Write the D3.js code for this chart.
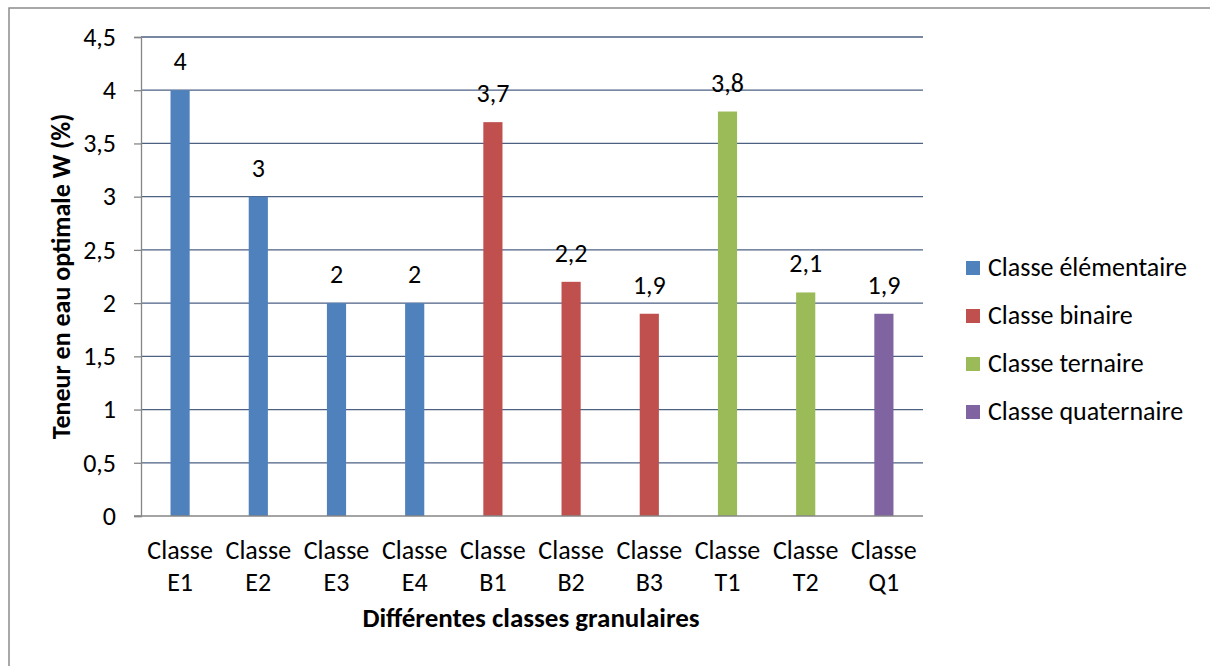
<!DOCTYPE html>
<html><head><meta charset="utf-8">
<script src="https://cdn.jsdelivr.net/npm/d3@7"></script>
<style>body{margin:0;background:#fff;} text{font-family:Carlito,Calibri,Lato,sans-serif;}</style>
</head><body><svg id="c" width="1210" height="666"></svg>
<script>
const categories = ["Classe E1","Classe E2","Classe E3","Classe E4","Classe B1","Classe B2","Classe B3","Classe T1","Classe T2","Classe Q1"];
const values = [4, 3, 2, 2, 3.7, 2.2, 1.9, 3.8, 2.1, 1.9];
const groups = ["élémentaire","élémentaire","élémentaire","élémentaire","binaire","binaire","binaire","ternaire","ternaire","quaternaire"];
const seriesNames = ["élémentaire","binaire","ternaire","quaternaire"];
const seriesLabels = ["Classe élémentaire","Classe binaire","Classe ternaire","Classe quaternaire"];
const seriesColors = ["#4F81BD","#C0504D","#9BBB59","#8064A2"];
const yTicks = [0,0.5,1,1.5,2,2.5,3,3.5,4,4.5];
const yTitle = "Teneur en eau optimale W (%)";
const xTitle = "Différentes classes granulaires";

const svg = d3.select("#c");
const fmt = v => String(v).replace(".", ",");
const FS = 26;
// outer frame
svg.append("rect").attr("x",9).attr("y",8).attr("width",1300).attr("height",700)
  .attr("fill","none").attr("stroke","#8c8c8c").attr("stroke-width",1.5);

const L=141, R=923, T=37, B=516;
const x = d3.scaleBand().domain(categories).range([L,R]).paddingInner(0.755).paddingOuter(0.3775);
const y = d3.scaleLinear().domain([0,4.5]).range([B,T]);
const color = d3.scaleOrdinal().domain(seriesNames).range(seriesColors);

// gridlines
svg.append("g").selectAll("line").data(yTicks.filter(d=>d>0)).join("line")
  .attr("x1",L).attr("x2",R).attr("y1",d=>y(d)).attr("y2",d=>y(d))
  .attr("stroke","#4d6183").attr("stroke-width",1.3);

// y axis
const ya = svg.append("g").attr("transform",`translate(${L},0)`)
  .call(d3.axisLeft(y).tickValues(yTicks).tickFormat(fmt).tickSize(7).tickPadding(18));
ya.select(".domain").attr("stroke","#868686").attr("stroke-width",1.3);
ya.selectAll(".tick line").attr("stroke","#868686").attr("stroke-width",1.3);
ya.selectAll(".tick text").attr("font-size",FS).attr("fill","#000").style("font-family","Carlito,Calibri,Lato,sans-serif");

// bars
svg.append("g").selectAll("rect").data(categories).join("rect")
  .attr("x",d=>x(d)).attr("width",x.bandwidth())
  .attr("y",(d,i)=>y(values[i])).attr("height",(d,i)=>B-y(values[i]))
  .attr("fill",(d,i)=>color(groups[i]));

// x axis line
svg.append("line").attr("x1",L-7).attr("x2",R).attr("y1",B).attr("y2",B)
  .attr("stroke","#868686").attr("stroke-width",1.3);

// data labels
svg.append("g").selectAll("text").data(categories).join("text")
  .attr("x",d=>x(d)+x.bandwidth()/2).attr("y",(d,i)=>y(values[i])-20)
  .attr("text-anchor","middle").attr("font-size",FS).text((d,i)=>fmt(values[i]));

// category labels
const cl = svg.append("g").selectAll("text").data(categories).join("text")
  .attr("x",d=>x(d)+x.bandwidth()/2).attr("y",559).attr("text-anchor","middle").attr("font-size",FS);
cl.append("tspan").attr("x",d=>x(d)+x.bandwidth()/2).text(d=>d.split(" ")[0]);
cl.append("tspan").attr("x",d=>x(d)+x.bandwidth()/2).attr("dy",32).text(d=>d.split(" ")[1]);

// axis titles
svg.append("text").attr("x",531).attr("y",627).attr("text-anchor","middle")
  .attr("font-size",27).attr("font-weight","bold").text(xTitle);
svg.append("text").attr("transform",`translate(70,${(T+B)/2}) rotate(-90)`).attr("text-anchor","middle")
  .attr("font-size",26).attr("font-weight","bold").text(yTitle);

// legend
const lg = svg.append("g").selectAll("g").data(seriesNames).join("g")
  .attr("transform",(d,i)=>`translate(966,${276+i*48})`);
lg.append("rect").attr("x",0).attr("y",-15).attr("width",14).attr("height",14).attr("fill",d=>color(d));
lg.append("text").attr("x",22).attr("y",0).attr("font-size",FS).text((d,i)=>seriesLabels[i]);
</script></body></html>
